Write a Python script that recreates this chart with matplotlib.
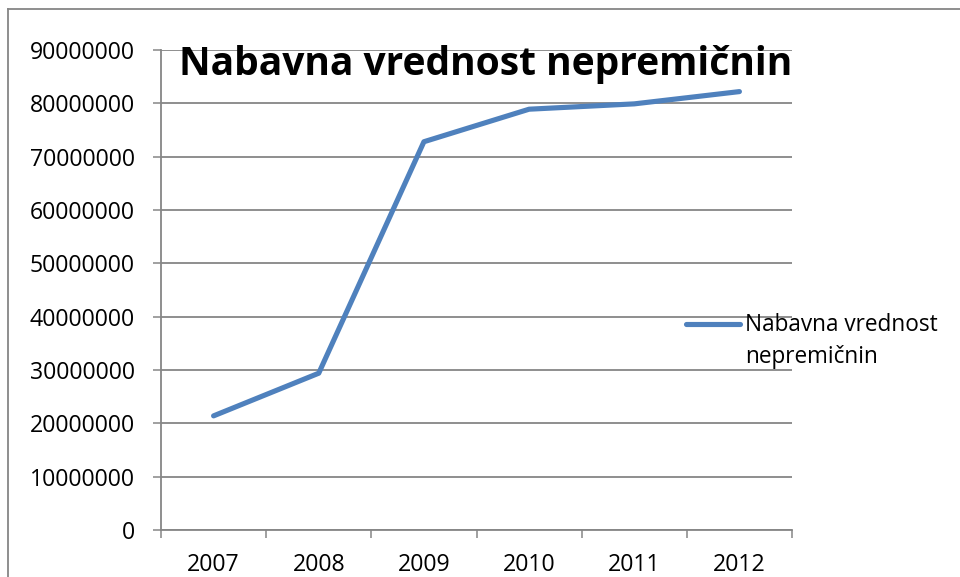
import matplotlib
matplotlib.use("Agg")
import matplotlib.pyplot as plt
from matplotlib.lines import Line2D

years = ["2007", "2008", "2009", "2010", "2011", "2012"]
values = [21400000, 29400000, 72800000, 78900000, 79900000, 82200000]
yticks = [0, 10000000, 20000000, 30000000, 40000000, 50000000,
          60000000, 70000000, 80000000, 90000000]
title = "Nabavna vrednost nepremičnin"
legend_line1 = "Nabavna vrednost"
legend_line2 = "nepremičnin"

plt.rcParams['font.family'] = ['Open Sans', 'DejaVu Sans']

W, H = 960, 577
fig = plt.figure(figsize=(W / 100, H / 100), dpi=100)
renderer = fig.canvas.get_renderer()


def fit_size(s, target_px, weight="normal", base=20.0):
    t = fig.text(0, 0, s, fontsize=base, fontweight=weight)
    w = t.get_window_extent(renderer).width
    t.remove()
    return base * target_px / w


tick_fs = fit_size("90000000", 106)
leg_fs = fit_size(legend_line1, 193)
title_fs = fit_size(title, 615, weight="bold")

ax = fig.add_axes([161 / W, 1 - 530 / H, (792 - 161) / W, (530 - 50) / H])

grid_c = "#868686"
line_c = "#4F81BD"

x = list(range(len(years)))
ax.plot(x, values, color=line_c, lw=3.7, solid_capstyle="round",
        solid_joinstyle="round", zorder=3)

ax.set_xlim(-0.5, len(years) - 0.5)
ax.set_ylim(0, 90000000)
ax.set_yticks(yticks)
ax.set_yticklabels([str(v) for v in yticks])
ax.yaxis.grid(True, color=grid_c, lw=1.3)
ax.set_axisbelow(True)

ax.set_xticks([i - 0.5 for i in range(len(years) + 1)])
ax.set_xticklabels([])
ax.set_xticks(x, minor=True)
ax.set_xticklabels(years, minor=True)
ax.tick_params(axis="x", which="major", direction="out", length=5.8, width=1.1, color=grid_c)
ax.tick_params(axis="x", which="minor", length=0, pad=16.3, labelsize=tick_fs)
ax.tick_params(axis="y", direction="out", length=5.8, width=1.1, color=grid_c, pad=13,
               labelsize=tick_fs)

for s in ["top", "right"]:
    ax.spines[s].set_visible(False)
for s in ["left", "bottom"]:
    ax.spines[s].set_color(grid_c)
    ax.spines[s].set_linewidth(1.3)

fig.text(485.5 / W, 1 - 75 / H, title, ha="center", va="baseline",
         fontsize=title_fs, fontweight="bold", color="black")

# legend
fig.add_artist(Line2D([686 / W, 740 / W], [1 - 323.5 / H, 1 - 323.5 / H], color=line_c,
                      lw=3.7, solid_capstyle="round"))
fig.text(745 / W, 1 - 330.7 / H, legend_line1, ha="left", va="baseline", fontsize=leg_fs)
fig.text(745 / W, 1 - 363.3 / H, legend_line2, ha="left", va="baseline", fontsize=leg_fs)

# chart frame
fig.add_artist(Line2D([8 / W, 8 / W], [0, 1 - 9 / H], color=grid_c, lw=1.3))
fig.add_artist(Line2D([8 / W, 1], [1 - 9 / H, 1 - 9 / H], color=grid_c, lw=1.3))

fig.savefig("out.png", dpi=100, facecolor="white")
